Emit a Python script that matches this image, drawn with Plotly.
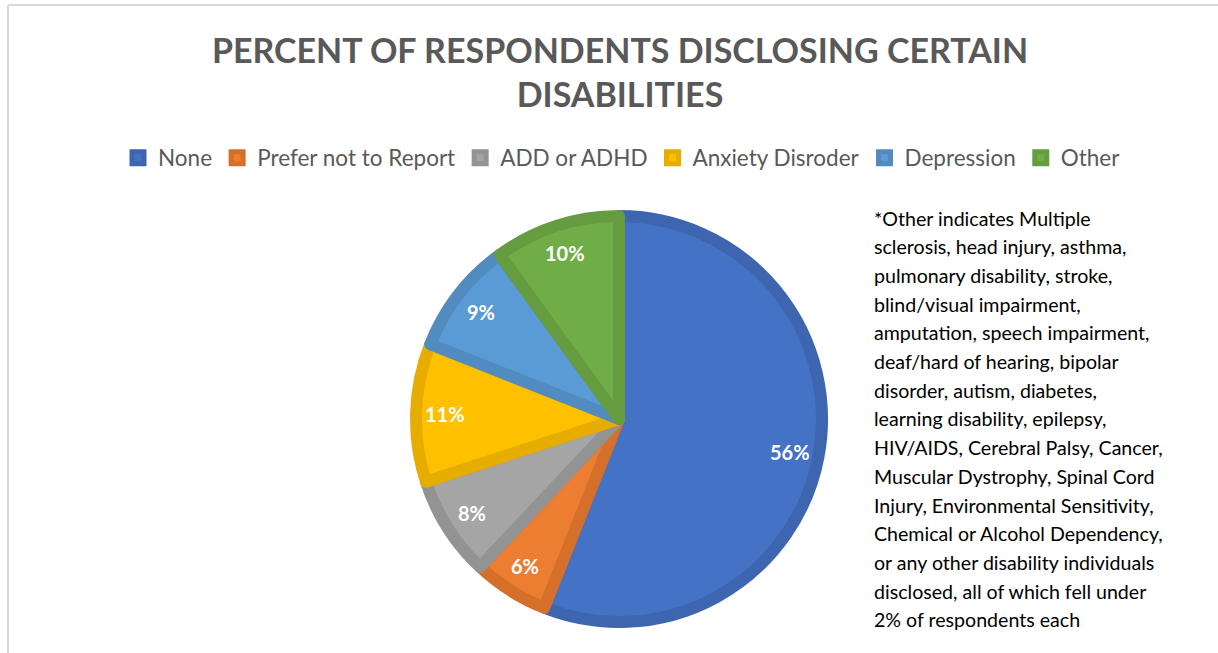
import math
import plotly.graph_objects as go

W, H = 1218, 653

categories = ["None", "Prefer not to Report", "ADD or ADHD", "Anxiety Disroder", "Depression", "Other"]
values = [56, 6, 8, 11, 9, 10]
fill_colors = ["#4472C4", "#ED7D31", "#A5A5A5", "#FFC000", "#5B9BD5", "#70AD47"]
line_colors = ["#3D65B0", "#D5702B", "#939393", "#E6AD00", "#518BC0", "#649C3F"]

title_text = "PERCENT OF RESPONDENTS DISCLOSING CERTAIN<br>DISABILITIES"
note_lines = [
    "*Other indicates Multiple",
    "sclerosis, head injury, asthma,",
    "pulmonary disability, stroke,",
    "blind/visual impairment,",
    "amputation, speech impairment,",
    "deaf/hard of hearing, bipolar",
    "disorder, autism, diabetes,",
    "learning disability, epilepsy,",
    "HIV/AIDS, Cerebral Palsy, Cancer,",
    "Muscular Dystrophy, Spinal Cord",
    "Injury, Environmental Sensitivity,",
    "Chemical or Alcohol Dependency,",
    "or any other disability individuals",
    "disclosed, all of which fell under",
    "2% of respondents each",
]

FONT = "Lato"

# pie geometry (pixels)
cx, cy, R, BW = 619, 419, 209, 12
r = R - BW / 2

fig = go.Figure(go.Pie(
    labels=categories,
    values=values,
    sort=False,
    direction="clockwise",
    rotation=0,
    marker=dict(colors=fill_colors, line=dict(color=line_colors, width=BW)),
    textinfo="none",
    domain=dict(x=[(cx - r) / W, (cx + r) / W], y=[1 - (cy + r) / H, 1 - (cy - r) / H]),
    hoverinfo="label+percent",
))

annotations = []

# percentage labels placed near the outer part of each slice (derived from the values)
total = sum(values)
cum = 0
LABEL_FRAC = 0.835
for v in values:
    mid = (cum + v / 2) / total * 2 * math.pi
    cum += v
    px = cx + LABEL_FRAC * R * math.sin(mid)
    py = cy - LABEL_FRAC * R * math.cos(mid)
    annotations.append(dict(
        text=f"{round(100 * v / total)}%", x=px / W, y=1 - py / H, xref="paper", yref="paper",
        xanchor="center", yanchor="middle", showarrow=False,
        font=dict(family=FONT, size=20, color="white", weight="bold"),
    ))

y0, dy = 218, 28.7
for i, line in enumerate(note_lines):
    annotations.append(dict(
        text=line, x=872 / W, y=1 - (y0 + i * dy) / H, xref="paper", yref="paper",
        xanchor="left", yanchor="middle", showarrow=False, align="left",
        font=dict(family=FONT, size=19.6, color="#000000"),
    ))

shapes = [
    dict(type="line", xref="paper", yref="paper", x0=8 / W, x1=1.0, y0=1 - 5 / H, y1=1 - 5 / H,
         line=dict(color="#D9D9D9", width=2)),
    dict(type="line", xref="paper", yref="paper", x0=8 / W, x1=8 / W, y0=0, y1=1 - 5 / H,
         line=dict(color="#D9D9D9", width=2)),
]

fig.update_layout(
    width=W, height=H,
    margin=dict(l=0, r=0, t=0, b=0),
    paper_bgcolor="white",
    plot_bgcolor="white",
    title=dict(text=title_text, x=620 / W, xanchor="center", y=1 - 63 / H, yanchor="middle",
               font=dict(family=FONT, size=34, color="#595959", weight="bold")),
    legend=dict(orientation="h", x=118 / W, xanchor="left", y=1 - 158 / H, yanchor="middle",
                font=dict(family=FONT, size=22.5, color="#595959"), traceorder="normal"),
    annotations=annotations,
    shapes=shapes,
)

fig.write_html("out.html")
